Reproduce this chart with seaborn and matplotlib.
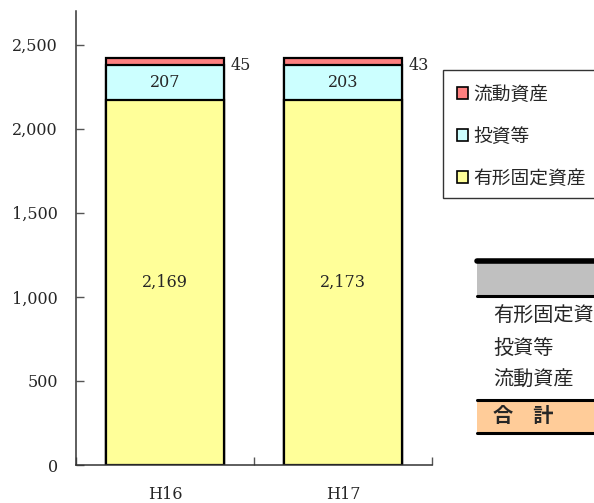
import matplotlib
matplotlib.use("Agg")
import matplotlib.pyplot as plt
import matplotlib.patches as mpatches
import matplotlib.lines as mlines
from matplotlib.ticker import FuncFormatter
import numpy as np
import pandas as pd
import seaborn as sns

# 資産構成（百万円）
years = ["H16", "H17"]
fixed_assets = [2169, 2173]      # 有形固定資産
investments = [207, 203]         # 投資等
current_assets = [45, 43]        # 流動資産
series_names = ["流動資産", "投資等", "有形固定資産"]
table_rows = ["有形固定資産", "投資等", "流動資産"]
total_label = "合　計"
y_ticks = [0, 500, 1000, 1500, 2000, 2500]

colors = {"有形固定資産": "#FFFF99", "投資等": "#CCFFFF", "流動資産": "#FF8080"}

sns.set_style("white")
plt.rcParams["font.family"] = ["Noto Sans CJK JP", "DejaVu Sans"]
serif = ["DejaVu Serif"]
num_size = 11.5

W, H = 594, 503
fig = plt.figure(figsize=(W / 100, H / 100), dpi=100)


def fx(px):
    return px / W


def fy(py):
    return 1 - py / H


ax = fig.add_axes([fx(76), fy(465), fx(432) - fx(76), fy(11) - fy(465)])

fixed = np.array(fixed_assets)
inv = np.array(investments)
cur = np.array(current_assets)
df = pd.DataFrame({
    "year": years,
    "top": fixed + inv + cur,
    "mid": fixed + inv,
    "low": fixed,
})

# cumulative bars drawn tallest first so the stack shows through
for col, name in [("top", "流動資産"), ("mid", "投資等"), ("low", "有形固定資産")]:
    sns.barplot(data=df, x="year", y=col, ax=ax, color=colors[name],
                width=0.66, edgecolor="black", linewidth=1.6,
                saturation=1, errorbar=None)

# value labels
for i in range(len(years)):
    ax.text(i, fixed[i] / 2, f"{fixed[i]:,}", ha="center", va="center",
            fontsize=num_size, family=serif)
    ax.text(i, fixed[i] + inv[i] / 2, f"{inv[i]:,}", ha="center", va="center",
            fontsize=num_size, family=serif)
    ax.text(i + 0.37, fixed[i] + inv[i] + cur[i] / 2 - 20, f"{cur[i]:,}",
            ha="left", va="center", fontsize=num_size, family=serif)

ax.set_xlim(-0.5, 1.5)
ax.set_ylim(0, 2700)
ax.set_xlabel("")
ax.set_ylabel("")
ax.set_yticks(y_ticks)
ax.yaxis.set_major_formatter(FuncFormatter(lambda v, p: f"{int(v):,}"))
ax.tick_params(axis="y", direction="in", length=6, width=1, color="#555555",
               pad=13, left=True, labelsize=num_size)
for lab in ax.get_yticklabels():
    lab.set_family(serif)

# category boundary ticks on x, labels at bar centres
ax.set_xticks([-0.5, 0.5, 1.5])
ax.set_xticklabels([])
ax.set_xticks([0, 1], minor=True)
ax.set_xticklabels(years, minor=True)
ax.tick_params(axis="x", which="major", direction="in", length=6, width=1,
               color="#555555", bottom=True)
ax.tick_params(axis="x", which="minor", length=0, pad=15, labelsize=num_size)
for lab in ax.get_xticklabels(minor=True):
    lab.set_family(serif)

sns.despine(ax=ax)
for s in ["left", "bottom"]:
    ax.spines[s].set_color("#333333")
    ax.spines[s].set_linewidth(1.1)

# legend
handles = [mpatches.Patch(facecolor=colors[n], edgecolor="black", linewidth=1.2)
           for n in series_names]
fig.patches.append(mpatches.Rectangle((fx(443), fy(198)), fx(600) - fx(443),
                                      fy(70) - fy(198), transform=fig.transFigure,
                                      facecolor="white", edgecolor="#333333",
                                      linewidth=1.0))
fig.legend(handles, series_names, loc="upper left",
           bbox_to_anchor=(fx(457), fy(84)), frameon=False, fontsize=13.5,
           handlelength=0.6, handleheight=0.6, handletextpad=0.25,
           labelspacing=1.12, borderpad=0, borderaxespad=0)

# summary table (right edge)
fig.patches.append(mpatches.Rectangle((fx(477), fy(296)), fx(600) - fx(477),
                                      fy(262) - fy(296), transform=fig.transFigure,
                                      facecolor="#C0C0C0", edgecolor="none"))
fig.patches.append(mpatches.Rectangle((fx(477), fy(433)), fx(600) - fx(477),
                                      fy(401) - fy(433), transform=fig.transFigure,
                                      facecolor="#FFCC99", edgecolor="none"))
for yy, lw in [(261, 4.0), (296, 2.2), (400, 2.2), (433, 2.2)]:
    fig.lines.append(mlines.Line2D([fx(477), fx(600)], [fy(yy), fy(yy)],
                                   transform=fig.transFigure, color="black",
                                   linewidth=lw))
for label, yy in zip(table_rows, [316, 348, 380]):
    fig.text(fx(493), fy(yy), label, ha="left", va="center", fontsize=14.5)
fig.text(fx(493), fy(416), total_label, ha="left", va="center", fontsize=14.5,
         fontweight="bold")

fig.savefig("out.png", dpi=100)
